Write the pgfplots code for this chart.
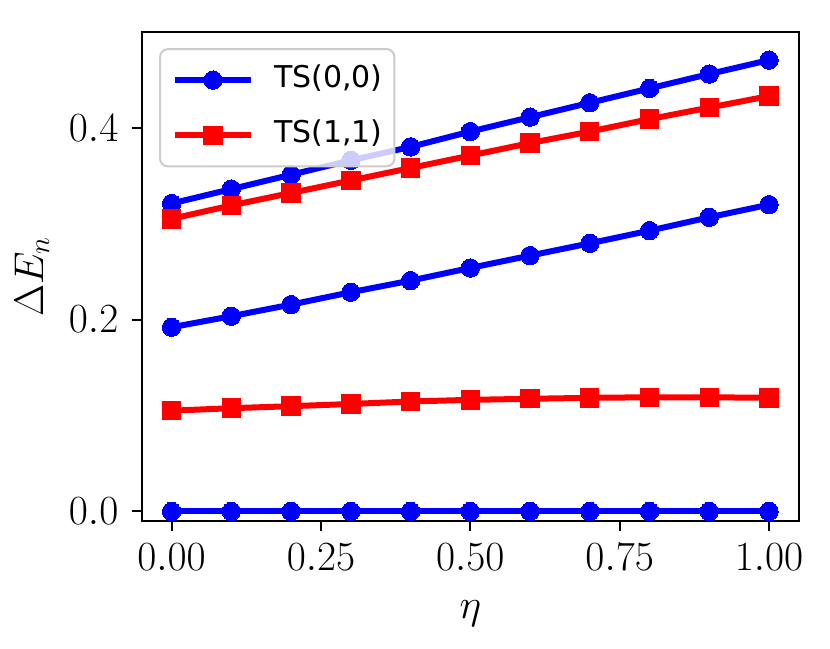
\documentclass[border=0pt]{standalone}
\usepackage{fontspec}
\usepackage{pgfplots}
\pgfplotsset{compat=1.18}
\newfontfamily\dejavu{DejaVu Sans}
\begin{document}
\begin{tikzpicture}
\useasboundingbox (0,0) rectangle (415pt,324pt);
\begin{axis}[
  scale only axis,
  width=328.6pt, height=244.6pt,
  at={(70.85pt,63.5pt)}, anchor=south west,
  xmin=-0.05, xmax=1.05, ymin=-0.01, ymax=0.5,
  xtick={0,0.25,0.5,0.75,1}, ytick={0,0.2,0.4},
  xticklabel style={/pgf/number format/fixed, /pgf/number format/fixed zerofill, /pgf/number format/precision=2},
  yticklabel style={/pgf/number format/fixed, /pgf/number format/fixed zerofill, /pgf/number format/precision=1},
  xtick pos=bottom, ytick pos=left,
  tick align=outside, major tick length=5pt,
  every tick/.style={black, line width=1pt},
  axis line style={line width=1pt},
  ticklabel style={font=\fontsize{19.5}{23}\selectfont, inner sep=0pt},
  xticklabel style={anchor=base, yshift=-19.8pt},
  yticklabel style={anchor=east, xshift=-6.5pt},
  xlabel={$\eta$}, ylabel={$\Delta E_n$},
  label style={font=\fontsize{20}{24}\selectfont},
  xlabel style={at={(axis description cs:0.5,0)}, anchor=base, yshift=-48.5pt},
  ylabel style={at={(axis description cs:0,0.5)}, anchor=base, yshift=49.35pt},
  legend style={at={(axis description cs:0,1)}, anchor=north west,
    xshift=8.65pt, yshift=-8.15pt, draw=black!20, line width=1pt,
    rounded corners=4pt, fill=white, fill opacity=0.8, text opacity=1,
    draw opacity=1, inner xsep=6pt, inner ysep=8pt,
    font=\dejavu\fontsize{15}{18}\selectfont,
    nodes={inner sep=0pt, text height=11pt, text depth=4pt},
    column sep=10pt, row sep=12.65pt},
  legend cell align=left,
  legend image code/.code={\draw[mark repeat=2,mark phase=2,#1,fill opacity=1,draw opacity=1] plot coordinates {(0pt,0pt) (19pt,0pt) (38pt,0pt)};},
  every axis plot/.append style={line width=3pt, mark size=4.6pt, mark options={line width=0pt}},
]
\addplot[blue, mark=*] coordinates {
(0.0,0.321) (0.1,0.336) (0.2,0.351) (0.3,0.366) (0.4,0.380) (0.5,0.396)
(0.6,0.411) (0.7,0.426) (0.8,0.441) (0.9,0.456) (1.0,0.4705)};
\addlegendentry{TS(0,0)}
\addplot[blue, mark=*, forget plot] coordinates {
(0.0,0.192) (0.1,0.2035) (0.2,0.2156) (0.3,0.2285) (0.4,0.2406) (0.5,0.2538)
(0.6,0.2667) (0.7,0.2795) (0.8,0.2927) (0.9,0.3066) (1.0,0.3198)};
\addplot[blue, mark=*, forget plot] coordinates {
(0.0,0) (0.1,0) (0.2,0) (0.3,0) (0.4,0) (0.5,0)
(0.6,0) (0.7,0) (0.8,0) (0.9,0) (1.0,0)};
\addplot[red, mark=square*] coordinates {
(0.0,0.305) (0.1,0.319) (0.2,0.332) (0.3,0.345) (0.4,0.358) (0.5,0.371)
(0.6,0.384) (0.7,0.396) (0.8,0.409) (0.9,0.421) (1.0,0.433)};
\addlegendentry{TS(1,1)}
\addplot[red, mark=square*, forget plot] coordinates {
(0.0,0.105) (0.1,0.1076) (0.2,0.1097) (0.3,0.112) (0.4,0.1146) (0.5,0.1163)
(0.6,0.1174) (0.7,0.1184) (0.8,0.119) (0.9,0.119) (1.0,0.1184)};
\end{axis}
\end{tikzpicture}
\end{document}
